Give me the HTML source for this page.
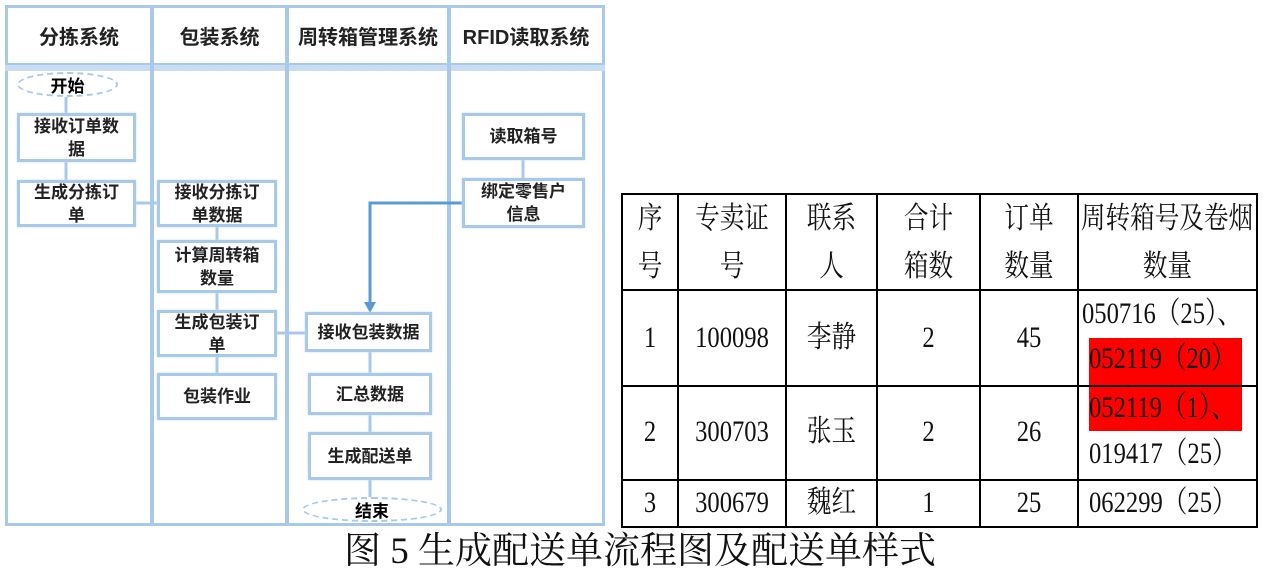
<!DOCTYPE html>
<html><head><meta charset="utf-8"><style>
body{margin:0;width:1263px;height:575px;background:#fff;position:relative;overflow:hidden;font-family:"Liberation Sans","Noto Sans CJK SC",sans-serif}
.a{position:absolute}
.bx{position:absolute;border:3px solid #a9c9ea;box-shadow:0 0 2px #c9ddf2;background:#fff;display:flex;align-items:center;justify-content:center;text-align:center;font-weight:bold;font-size:17px;line-height:23px;color:#222;box-sizing:border-box}
.el{position:absolute;border:2px dashed #a9c9ea;border-radius:50%;display:flex;align-items:center;justify-content:center;font-weight:bold;font-size:17px;box-sizing:border-box}
.vl{position:absolute;background:#a9c9ea;width:4px}
.hd{position:absolute;top:21px;font-weight:bold;font-size:20px;color:#222;text-align:center}
.h{position:absolute;background:#000;height:2px}
.v{position:absolute;background:#000;width:2px}
.t{position:absolute;font-family:"Liberation Serif","Noto Serif CJK SC",serif;font-size:30px;line-height:34px;color:#111;white-space:nowrap;transform:scaleX(0.82);transform-origin:center}
.tl{transform-origin:left}
</style></head><body>
<div class="a" style="left:5px;top:5px;width:594px;height:515px;border:3px solid #a9c9ea"></div>
<div class="a" style="left:5px;top:63px;width:600px;height:6px;background:#c9ddf2;border-top:2px solid #a9c9ea"></div>
<div class="vl" style="left:150px;top:5px;height:518px"></div>
<div class="vl" style="left:285px;top:5px;height:518px"></div>
<div class="vl" style="left:447px;top:5px;height:518px"></div>
<div class="hd" style="left:8px;width:142px">分拣系统</div>
<div class="hd" style="left:154px;width:131px">包装系统</div>
<div class="hd" style="left:289px;width:158px">周转箱管理系统</div>
<div class="hd" style="left:451px;width:150px">RFID读取系统</div>
<svg class="a" style="left:0;top:0" width="610" height="530">
<g stroke="#a9c9ea" stroke-width="3" fill="#a9c9ea">
<line x1="66" y1="97" x2="66" y2="113"/><line x1="66" y1="162" x2="66" y2="180"/>
<line x1="136" y1="203" x2="157" y2="203"/>
<line x1="217" y1="227" x2="217" y2="240"/><line x1="217" y1="293" x2="217" y2="310"/><line x1="217" y1="357" x2="217" y2="373"/>
<line x1="277" y1="333" x2="305" y2="333"/>
<line x1="370" y1="352" x2="370" y2="373"/><line x1="370" y1="415" x2="370" y2="432"/><line x1="370" y1="480" x2="370" y2="497"/>
<line x1="523" y1="160" x2="523" y2="178"/>
</g>
<polyline points="464,203 370,203 370,305" fill="none" stroke="#5b9bd5" stroke-width="3"/>
<polygon points="364,302 376,302 370,313" fill="#5b9bd5"/>
</svg>
<div class="el" style="left:17px;top:72px;width:101px;height:25px">开始</div>
<div class="bx" style="left:17px;top:113px;width:119px;height:49px">接收订单数<br>据</div>
<div class="bx" style="left:17px;top:180px;width:119px;height:47px">生成分拣订<br>单</div>
<div class="bx" style="left:157px;top:180px;width:120px;height:47px">接收分拣订<br>单数据</div>
<div class="bx" style="left:157px;top:240px;width:120px;height:53px">计算周转箱<br>数量</div>
<div class="bx" style="left:157px;top:310px;width:120px;height:47px">生成包装订<br>单</div>
<div class="bx" style="left:157px;top:373px;width:120px;height:47px">包装作业</div>
<div class="bx" style="left:462px;top:113px;width:123px;height:47px">读取箱号</div>
<div class="bx" style="left:462px;top:178px;width:123px;height:50px">绑定零售户<br>信息</div>
<div class="bx" style="left:305px;top:312px;width:127px;height:40px">接收包装数据</div>
<div class="bx" style="left:308px;top:373px;width:124px;height:42px">汇总数据</div>
<div class="bx" style="left:308px;top:432px;width:124px;height:48px">生成配送单</div>
<div class="el" style="left:302px;top:497px;width:140px;height:25px">结束</div>

<div class="a" style="left:1089px;top:338px;width:153px;height:93px;background:#f00"></div>
<div class="h" style="left:621px;top:193px;width:637px"></div>
<div class="h" style="left:621px;top:289px;width:637px"></div>
<div class="h" style="left:621px;top:385px;width:637px"></div>
<div class="h" style="left:621px;top:479px;width:637px"></div>
<div class="h" style="left:621px;top:526px;width:637px"></div>
<div class="v" style="left:621px;top:193px;height:335px"></div>
<div class="v" style="left:677px;top:193px;height:335px"></div>
<div class="v" style="left:785px;top:193px;height:335px"></div>
<div class="v" style="left:876px;top:193px;height:335px"></div>
<div class="v" style="left:979px;top:193px;height:335px"></div>
<div class="v" style="left:1077px;top:193px;height:335px"></div>
<div class="v" style="left:1256px;top:193px;height:335px"></div>

<div class="t" style="left:621px;width:58px;top:202px;text-align:center">序</div>
<div class="t" style="left:621px;width:58px;top:250px;text-align:center">号</div>
<div class="t" style="left:677px;width:110px;top:202px;text-align:center">专卖证</div>
<div class="t" style="left:677px;width:110px;top:250px;text-align:center">号</div>
<div class="t" style="left:785px;width:93px;top:202px;text-align:center">联系</div>
<div class="t" style="left:785px;width:93px;top:250px;text-align:center">人</div>
<div class="t" style="left:876px;width:105px;top:202px;text-align:center">合计</div>
<div class="t" style="left:876px;width:105px;top:250px;text-align:center">箱数</div>
<div class="t" style="left:979px;width:100px;top:202px;text-align:center">订单</div>
<div class="t" style="left:979px;width:100px;top:250px;text-align:center">数量</div>
<div class="t" style="left:1057px;width:220px;top:202px;text-align:center">周转箱号及卷烟</div>
<div class="t" style="left:1077px;width:181px;top:250px;text-align:center">数量</div>

<div class="t" style="left:621px;width:58px;top:321px;text-align:center">1</div>
<div class="t" style="left:677px;width:110px;top:321px;text-align:center">100098</div>
<div class="t" style="left:785px;width:93px;top:321px;text-align:center">李静</div>
<div class="t" style="left:876px;width:105px;top:321px;text-align:center">2</div>
<div class="t" style="left:979px;width:100px;top:321px;text-align:center">45</div>
<div class="t tl" style="left:1082px;top:297px">050716（25）、</div>
<div class="t tl" style="left:1089px;top:342px">052119（20）</div>

<div class="t" style="left:621px;width:58px;top:415px;text-align:center">2</div>
<div class="t" style="left:677px;width:110px;top:415px;text-align:center">300703</div>
<div class="t" style="left:785px;width:93px;top:415px;text-align:center">张玉</div>
<div class="t" style="left:876px;width:105px;top:415px;text-align:center">2</div>
<div class="t" style="left:979px;width:100px;top:415px;text-align:center">26</div>
<div class="t tl" style="left:1089px;top:391px">052119（1）、</div>
<div class="t tl" style="left:1089px;top:437px">019417（25）</div>

<div class="t" style="left:621px;width:58px;top:486px;text-align:center">3</div>
<div class="t" style="left:677px;width:110px;top:486px;text-align:center">300679</div>
<div class="t" style="left:785px;width:93px;top:486px;text-align:center">魏红</div>
<div class="t" style="left:876px;width:105px;top:486px;text-align:center">1</div>
<div class="t" style="left:979px;width:100px;top:486px;text-align:center">25</div>
<div class="t tl" style="left:1089px;top:486px">062299（25）</div>

<div class="a" style="left:300px;top:531px;width:680px;text-align:center;font-family:'Liberation Serif','Noto Serif CJK SC',serif;font-size:37px;line-height:42px;color:#111;white-space:nowrap">图 5 生成配送单流程图及配送单样式</div>
</body></html>
